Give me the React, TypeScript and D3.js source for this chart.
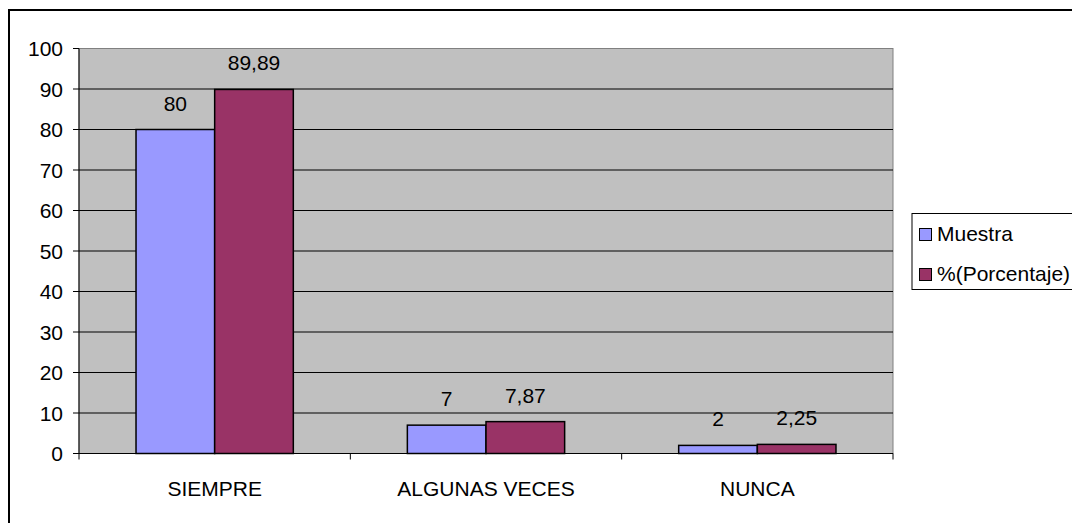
import React from "react";
import * as d3 from "d3";

const categories = ["SIEMPRE", "ALGUNAS VECES", "NUNCA"];
const seriesNames = ["Muestra", "%(Porcentaje)"];
const muestra = [80, 7, 2];
const porcentaje = [89.89, 7.87, 2.25];
const muestraLabels = ["80", "7", "2"];
const porcentajeLabels = ["89,89", "7,87", "2,25"];
const yTicks = [0, 10, 20, 30, 40, 50, 60, 70, 80, 90, 100];
const colors = ["#9999FF", "#993366"];

const W = 1072;
const H = 523;
const plot = { left: 79, right: 893, top: 48.5, bottom: 453.5 };
const FONT = "'Liberation Sans', Arial, sans-serif";
const FS = 21;

export default function App() {
  const x = d3.scaleBand<string>().domain(categories).range([plot.left, plot.right]).padding(0);
  const xs = d3
    .scaleBand<string>()
    .domain(seriesNames)
    .range([0, x.bandwidth()])
    .paddingInner(0)
    .paddingOuter(0.725);
  const y = d3.scaleLinear().domain([0, 100]).range([plot.bottom, plot.top]);
  const series = [
    { name: seriesNames[0], values: muestra, labels: muestraLabels, color: colors[0] },
    { name: seriesNames[1], values: porcentaje, labels: porcentajeLabels, color: colors[1] },
  ];

  return (
    <svg
      width={W}
      height={H}
      style={{ position: "absolute", left: 0, top: 0, display: "block" }}
      fontFamily={FONT}
    >
      <rect x={0} y={0} width={W} height={H} fill="#fff" />
      {/* outer chart border */}
      <rect x={9} y={10} width={W + 20} height={H + 20} fill="none" stroke="#000" strokeWidth={2} />
      {/* plot area */}
      <rect
        x={plot.left}
        y={plot.top}
        width={plot.right - plot.left}
        height={plot.bottom - plot.top}
        fill="#C0C0C0"
        stroke="#808080"
        strokeWidth={1}
      />
      {yTicks.map((t) => (
        <g key={t}>
          {t > 0 && t < 100 && (
            <line x1={plot.left} x2={plot.right} y1={y(t)} y2={y(t)} stroke="#000" strokeWidth={1} />
          )}
          <line x1={plot.left - 6} x2={plot.left} y1={y(t)} y2={y(t)} stroke="#000" strokeWidth={1} />
          <text x={plot.left - 16} y={y(t) + 7.5} textAnchor="end" fontSize={FS} fill="#000">
            {t}
          </text>
        </g>
      ))}
      {/* bars */}
      {categories.map((c, i) =>
        series.map((s) => {
          const bx = (x(c) as number) + (xs(s.name) as number);
          const bw = xs.bandwidth();
          const top = y(s.values[i]);
          return (
            <g key={c + s.name}>
              <rect
                x={bx}
                y={top}
                width={bw}
                height={plot.bottom - top}
                fill={s.color}
                stroke="#000"
                strokeWidth={1.5}
              />
              <text x={bx + bw / 2} y={top - 19} textAnchor="middle" fontSize={FS} fill="#000">
                {s.labels[i]}
              </text>
            </g>
          );
        })
      )}
      {/* axes */}
      <line x1={plot.left} x2={plot.left} y1={plot.top} y2={plot.bottom + 6} stroke="#000" strokeWidth={1} />
      <line x1={plot.left} x2={plot.right} y1={plot.bottom} y2={plot.bottom} stroke="#000" strokeWidth={1} />
      {categories.map((c, i) => (
        <line
          key={"t" + c}
          x1={(x(c) as number) + x.bandwidth()}
          x2={(x(c) as number) + x.bandwidth()}
          y1={plot.bottom}
          y2={plot.bottom + 6}
          stroke="#000"
          strokeWidth={1}
        />
      ))}
      {categories.map((c) => (
        <text
          key={"l" + c}
          x={(x(c) as number) + x.bandwidth() / 2}
          y={496}
          textAnchor="middle"
          fontSize={FS}
          fill="#000"
        >
          {c}
        </text>
      ))}
      {/* legend */}
      <rect x={912} y={213.5} width={200} height={76} fill="#fff" stroke="#000" strokeWidth={1} />
      {series.map((s, i) => (
        <g key={"lg" + s.name}>
          <rect x={919.5} y={228.5 + i * 40} width={12} height={12} fill={s.color} stroke="#000" strokeWidth={1} />
          <text x={937} y={240.5 + i * 40} fontSize={FS} fill="#000">
            {s.name}
          </text>
        </g>
      ))}
    </svg>
  );
}
